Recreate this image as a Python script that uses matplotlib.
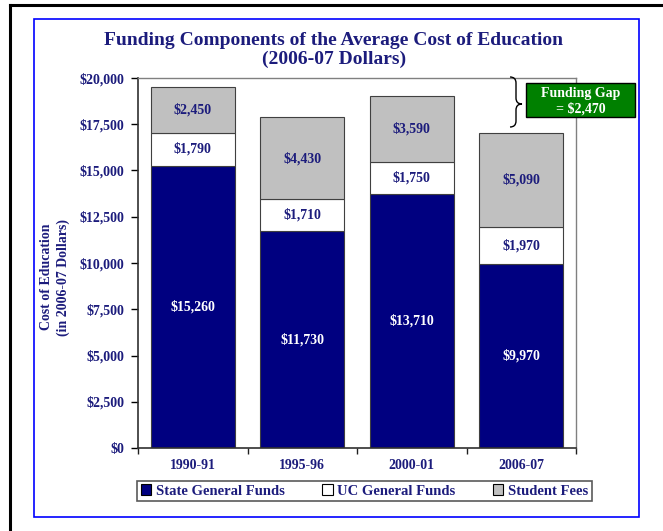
import matplotlib.pyplot as plt
from matplotlib.patches import Rectangle, Patch, PathPatch
from matplotlib.path import Path
from matplotlib.lines import Line2D
from matplotlib.ticker import FuncFormatter, FixedLocator

years = ['1990-91', '1995-96', '2000-01', '2006-07']
state_funds = [15260, 11730, 13710, 9970]
uc_funds = [1790, 1710, 1750, 1970]
student_fees = [2450, 4430, 3590, 5090]
series_names = ['State General Funds', 'UC General Funds', 'Student Fees']
gap_text = 'Funding Gap\n= $2,470'

navy = '#000080'
txt = '#1c1c7c'
plt.rcParams['font.family'] = ['Liberation Serif', 'DejaVu Serif']
plt.rcParams['font.weight'] = 'bold'

W, H = 663, 531
fig = plt.figure(figsize=(W / 100, H / 100), dpi=100)

def fx(px):
    return px / W

def fy(py):
    return 1 - py / H

ax = fig.add_axes([fx(138), fy(448), fx(576) - fx(138), fy(78) - fy(448)])

x = range(len(years))
bottom2 = [a + b for a, b in zip(state_funds, uc_funds)]
b1 = ax.bar(x, state_funds, width=0.77, color=navy, edgecolor='#404040', linewidth=0.8)
b2 = ax.bar(x, uc_funds, width=0.77, bottom=state_funds, color='white', edgecolor='#404040', linewidth=0.8)
b3 = ax.bar(x, student_fees, width=0.77, bottom=bottom2, color='#c0c0c0', edgecolor='#404040', linewidth=0.8)

fmt = lambda v: f'${v:,.0f}'
ax.bar_label(b1, fmt=fmt, label_type='center', color='white', fontsize=10, fontweight='bold')
ax.bar_label(b2, fmt=fmt, label_type='center', color=txt, fontsize=10, fontweight='bold')
ax.bar_label(b3, fmt=fmt, label_type='center', color=txt, fontsize=10, fontweight='bold')

ax.set_xlim(-0.5, len(years) - 0.5)
ax.set_ylim(0, 20000)
ax.yaxis.set_major_locator(FixedLocator([i * 2500 for i in range(9)]))
ax.yaxis.set_major_formatter(FuncFormatter(lambda v, p: f'${v:,.0f}'))
ax.set_xticks(list(x))
ax.set_xticklabels(years)
ax.tick_params(axis='x', length=0, pad=8, labelsize=10, labelcolor=txt)
ax.tick_params(axis='y', direction='out', length=5, width=1, pad=5, labelsize=10, labelcolor=txt)
for lab in ax.get_xticklabels() + ax.get_yticklabels():
    lab.set_fontweight('bold')
# boundary ticks between categories
ax.set_xticks([i - 0.5 for i in range(len(years) + 1)], minor=True)
ax.tick_params(axis='x', which='minor', direction='out', length=4, width=1, color='#202020')

for s in ['left', 'bottom']:
    ax.spines[s].set_color('#303030')
    ax.spines[s].set_linewidth(1.2)
for s in ['top', 'right']:
    ax.spines[s].set_color('#808080')
    ax.spines[s].set_linewidth(1)

ax.set_ylabel('Cost of Education\n(in 2006-07 Dollars)', color=txt, fontsize=10,
              fontweight='bold', linespacing=1.35)
ax.yaxis.set_label_coords(-0.155, 0.462)

fig.text(fx(334), fy(50), 'Funding Components of the Average Cost of Education\n(2006-07 Dollars)',
         ha='center', va='center', fontsize=14, fontweight='bold', color=txt, linespacing=1.15)

handles = [Patch(facecolor=c, edgecolor='black', linewidth=0.8) for c in [navy, 'white', '#c0c0c0']]
leg = fig.legend(handles, series_names, loc='center', bbox_to_anchor=(fx(364.5), fy(491)),
                 ncol=3, frameon=True, fancybox=False, handlelength=0.7,
                 handleheight=0.7, handletextpad=0.3, columnspacing=2.6, borderpad=0.25,
                 prop={'weight': 'bold', 'size': 10.5})
leg.get_frame().set_edgecolor('#303030')
leg.get_frame().set_linewidth(1.2)
for t in leg.get_texts():
    t.set_color(txt)

# funding gap box
fig.patches.append(Rectangle((fx(526), fy(117)), fx(635) - fx(526), fy(83) - fy(117),
                             transform=fig.transFigure, facecolor='#008000', edgecolor='black', linewidth=1))
fig.text(fx(580.5), fy(101), gap_text, ha='center', va='center', color='white', fontsize=10,
         fontweight='bold', linespacing=1.15)

# brace
pts = [(510, 77), (516, 77), (516, 83), (516, 98), (516, 104), (522, 104),
       (516, 104), (516, 110), (516, 121), (516, 127), (510, 127)]
codes = [Path.MOVETO, Path.CURVE3, Path.CURVE3, Path.LINETO, Path.CURVE3, Path.CURVE3,
         Path.CURVE3, Path.CURVE3, Path.LINETO, Path.CURVE3, Path.CURVE3]
brace = Path([(fx(a), fy(b)) for a, b in pts], codes)
fig.patches.append(PathPatch(brace, transform=fig.transFigure, facecolor='none',
                             edgecolor='black', linewidth=1))

# outer frames
fig.patches.append(Rectangle((fx(34), fy(517)), fx(639) - fx(34), fy(19) - fy(517),
                             transform=fig.transFigure, fill=False, edgecolor='#0000ff', linewidth=1.2))
fig.lines.append(Line2D([fx(10), fx(10)], [0, fy(5)], transform=fig.transFigure, color='black', linewidth=2.2))
fig.lines.append(Line2D([fx(10), 1], [fy(5), fy(5)], transform=fig.transFigure, color='black', linewidth=2.2))

fig.savefig('out.png', dpi=100)
